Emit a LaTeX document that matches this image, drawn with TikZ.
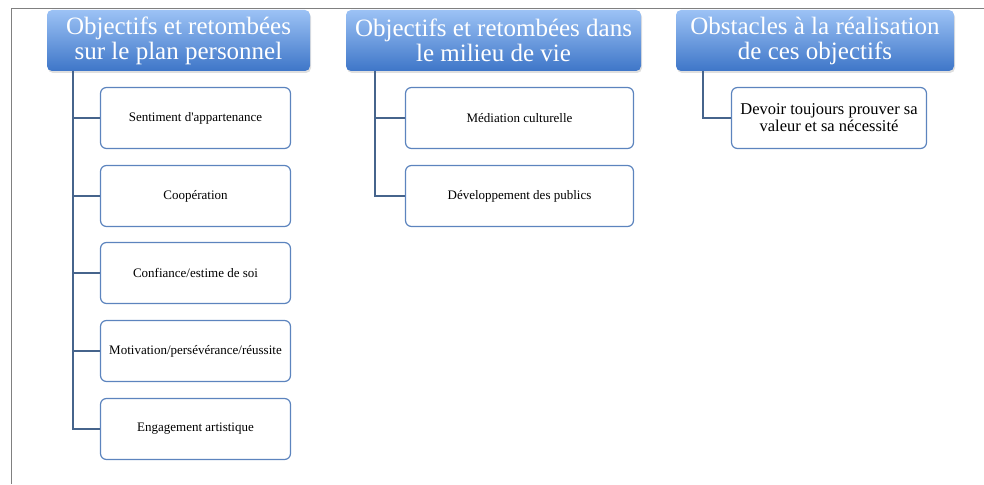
\documentclass[tikz,border=0pt]{standalone}
\usepackage{fontspec}
\setmainfont{Liberation Serif}
\usetikzlibrary{positioning,shadows}

\definecolor{headtop}{RGB}{156,194,245}
\definecolor{headbot}{RGB}{62,118,200}
\definecolor{leafedge}{RGB}{92,132,190}
\definecolor{linkcol}{RGB}{70,100,140}

\begin{document}
\begin{tikzpicture}[x=1pt,y=-1pt,
		head/.style={rounded corners=5pt,top color=headtop,bottom color=headbot,text=white,align=center,
			minimum height=61pt,inner sep=2pt,font=\fontsize{25}{25}\selectfont,
			drop shadow={opacity=.25,shadow xshift=1pt,shadow yshift=-2pt}},
		leaf/.style={draw=leafedge,line width=1.2pt,rounded corners=6pt,fill=white,align=center,
			minimum height=61pt,inner sep=2pt,font=\fontsize{13}{15}\selectfont},
		link/.style={draw=linkcol,line width=1.6pt}]
	\useasboundingbox (0,0) rectangle (984,484);
	\draw[gray] (984,8) -- (11,8) -- (11,484);
	% headers
	\node[head,minimum width=263pt] (h1) at (178.5,40.5) {Objectifs et retombées\\sur le plan personnel};
	\node[head,minimum width=295pt] (h2) at (493.5,40.5) {Objectifs et retombées dans\\le milieu de vie};
	\node[head,minimum width=278pt] (h3) at (815,40.5) {Obstacles à la réalisation\\de ces objectifs};
	\path
	(73,71) coordinate (t1)
	(375,71) coordinate (t2)
	(703,71) coordinate (t3)
	;
	% first column
	\foreach \n/\y/\t in {1/118/{Sentiment d\textquotesingle appartenance},2/196/{Coopération},
		3/273/{Confiance/estime de soi},4/351/{Motivation/persévérance/réussite},5/429/{Engagement artistique}}{
		\node[leaf,minimum width=190pt] (a\n) at (195.5,\y) {\t};
		\draw[link] (t1) |- (a\n.west);
	}
	% second column
	\foreach \n/\y/\t in {1/118/{Médiation culturelle},2/196/{Développement des publics}}{
		\node[leaf,minimum width=228pt] (b\n) at (519.5,\y) {\t};
		\draw[link] (t2) |- (b\n.west);
	}
	% third column
	\node[leaf,minimum width=195pt,font=\fontsize{16.5}{17}\selectfont] (c1) at (829,118) {Devoir toujours prouver sa\\valeur et sa nécessité};
	\draw[link] (t3) |- (c1.west);
\end{tikzpicture}
\end{document}
